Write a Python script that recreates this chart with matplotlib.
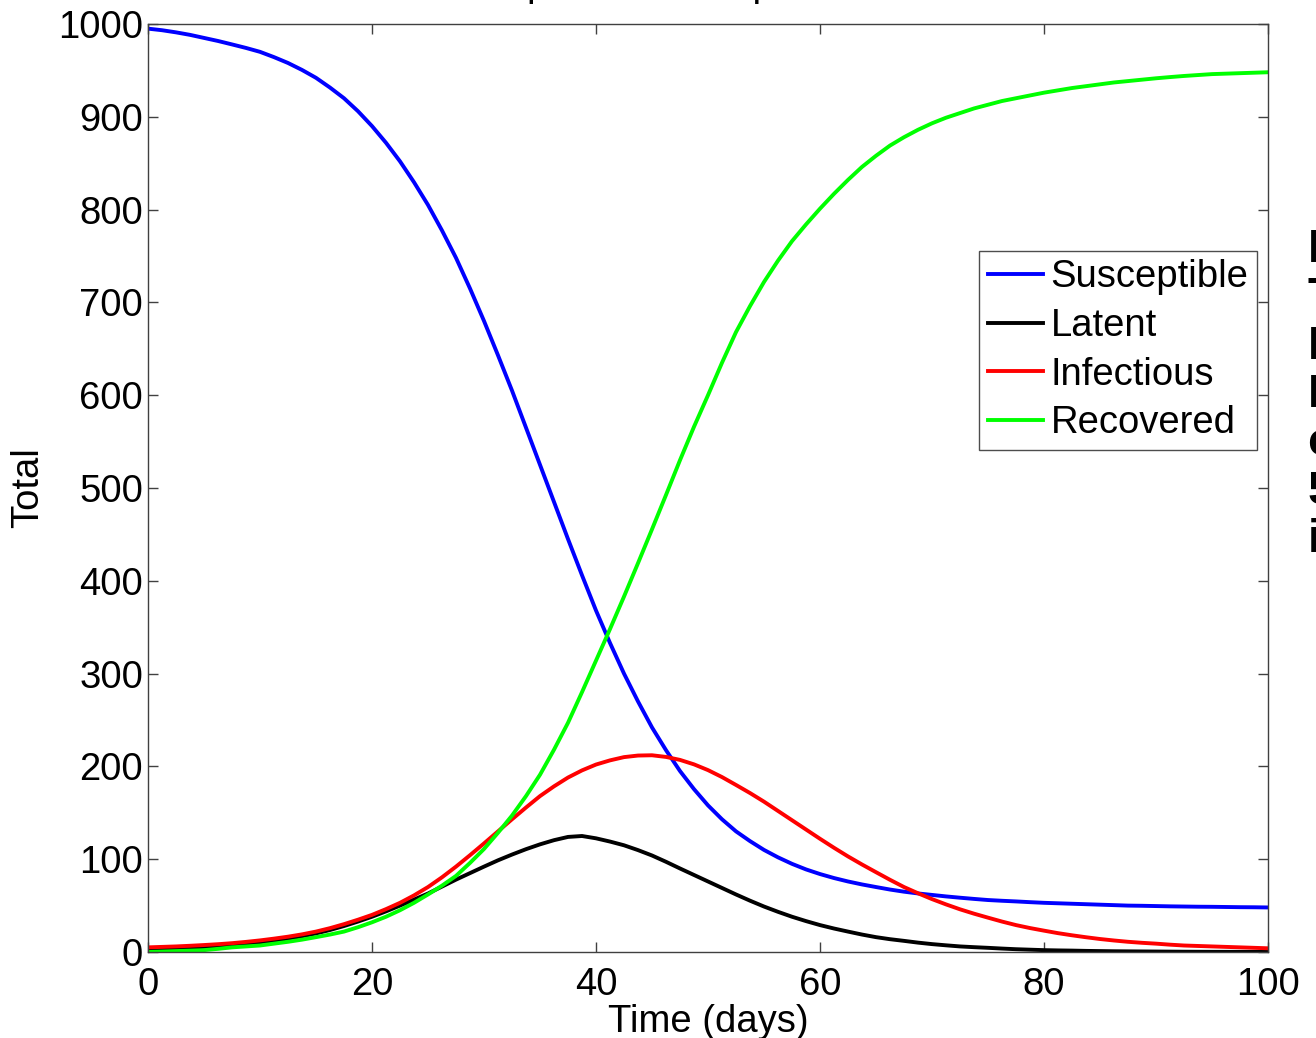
import numpy as np
import matplotlib
matplotlib.use("Agg")
import matplotlib.pyplot as plt

# SEIR model output, sampled every 1.25 days from day 0 to day 100
days = np.arange(0, 101.25, 1.25)

susceptible = [995, 993.3, 991, 988.3, 985, 981.7, 978, 974.2, 970, 964.3,
               958, 950.5, 942, 931.5, 920, 906, 890, 872, 852, 829.5,
               805, 777.5, 748, 715, 680, 643, 605, 565, 525, 485,
               445, 406, 368, 333, 300, 270, 242, 217.5, 195, 175.5,
               158, 143, 130, 119.5, 110, 102, 95, 89, 84, 79.7,
               76, 72.8, 70, 67.3, 65, 63.1, 61.5, 59.9, 58.5, 57.2,
               56, 55.2, 54.5, 53.7, 53, 52.5, 52, 51.5, 51, 50.5,
               50, 49.8, 49.5, 49.2, 49, 48.8, 48.7, 48.5, 48.3, 48.2,
               48]

latent = [3, 3.5, 4, 4.7, 5.5, 6.4, 7.5, 8.9, 10.5, 12.4,
          14.5, 17, 20, 23.7, 28, 32.8, 38, 43.8, 50, 56.5,
          63, 70.5, 78, 85, 92, 98.8, 105, 110.8, 116, 120.5,
          124, 125, 122.5, 119, 115, 109.8, 104, 97.2, 90, 83,
          76, 69, 62, 55.3, 49, 43.3, 38, 33.3, 29, 25.3,
          22, 18.8, 16, 13.8, 12, 10.1, 8.5, 7.2, 6, 5.2,
          4.5, 3.7, 3, 2.5, 2, 1.7, 1.5, 1.2, 1, 0.8,
          0.7, 0.6, 0.5, 0.4, 0.3, 0.25, 0.2, 0.18, 0.15, 0.12,
          0.1]

infectious = [5, 5.5, 6, 6.7, 7.5, 8.4, 9.5, 10.9, 12.5, 14.4,
              16.5, 19, 22, 25.7, 30, 34.8, 40, 46.2, 53, 61,
              70, 80.5, 92, 104.3, 117, 130, 143, 155.7, 168, 178.5,
              188, 195.7, 202, 206.5, 210, 211.7, 212, 210.2, 207, 202.2,
              196, 188.5, 180, 171.3, 162, 152, 142, 132, 122, 112.3,
              103, 94.3, 86, 77.8, 70, 63.3, 57, 51.3, 46, 41.3,
              37, 32.8, 29, 25.8, 23, 20.3, 18, 15.9, 14, 12.4,
              11, 9.9, 9, 7.9, 7, 6.5, 6, 5.5, 5, 4.5,
              4]

recovered = [0, 0.5, 1, 1.5, 2, 3.4, 5, 6, 7, 9,
             11, 13.3, 16, 18.8, 22, 26.7, 32, 38, 45, 53,
             62, 71.5, 82, 96, 111, 128.5, 147, 168, 191, 218,
             247, 280, 314, 348, 383, 419, 455.5, 492.5, 530, 566,
             600, 635, 668, 696, 722, 745, 766, 784, 801, 817,
             832, 846, 858, 869, 878, 886, 893, 899, 904, 909,
             913, 917, 920, 923, 926, 928.5, 931, 933, 935, 937,
             938.5, 940, 941.5, 942.8, 944, 945, 946, 946.5, 947, 947.5,
             948]

series = [("Susceptible", susceptible, (0, 0, 1)),
          ("Latent", latent, (0, 0, 0)),
          ("Infectious", infectious, (1, 0, 0)),
          ("Recovered", recovered, (0, 1, 0))]

notes = ["Parameters", "Total N = 1000", "Incubation period 5 days",
         "Infectious period 7 days", "contact rate 0.45", "5 initially",
         "infectious"]

plt.rcParams['font.family'] = ['Liberation Sans', 'DejaVu Sans']
fs = 27.5

W, H = 1316, 1038
fig = plt.figure(figsize=(W / 100, H / 100), dpi=100, facecolor="white")
ax = fig.add_axes([148 / W, 1 - 952 / H, 1120 / W, 928 / H])

for name, vals, col in series:
    ax.plot(days, vals, color=col, lw=2.8, label=name)

ax.set_xlim(0, 100)
ax.set_ylim(0, 1000)
ax.set_xticks(np.arange(0, 101, 20))
ax.set_yticks(np.arange(0, 1001, 100))
ax.tick_params(direction='in', length=7.5, width=1, color='0.25',
               top=True, right=True, labelsize=fs, labelcolor='k')
ax.tick_params(axis='x', pad=10.5)
ax.tick_params(axis='y', pad=3.5)
for sp in ax.spines.values():
    sp.set_color('0.25')
    sp.set_linewidth(1)

ax.set_xlabel("Time (days)", fontsize=fs, labelpad=1)
ax.set_ylabel("Total", fontsize=fs, labelpad=9)

leg = ax.legend(loc='upper right', bbox_to_anchor=(0.990, 0.7554),
                borderaxespad=0, fontsize=fs, fancybox=False, framealpha=1,
                edgecolor='0.3', handlelength=1.44, handletextpad=0.2,
                labelspacing=0.33, borderpad=0.22)
leg.get_frame().set_linewidth(1)

# title sits above the top edge of the figure
fig.text(406.5 / W, 1 + 4 / H, "SEIR epidemic: sample run", fontsize=fs,
         ha='left', va='baseline')

# side notes, running off the right edge
for i, line in enumerate(notes):
    fig.text(1308 / W, 1 - (250 + 48.3 * i) / H, line, fontsize=34,
             fontweight='bold', ha='left', va='center')

fig.savefig("out.png", dpi=100, facecolor="white")
